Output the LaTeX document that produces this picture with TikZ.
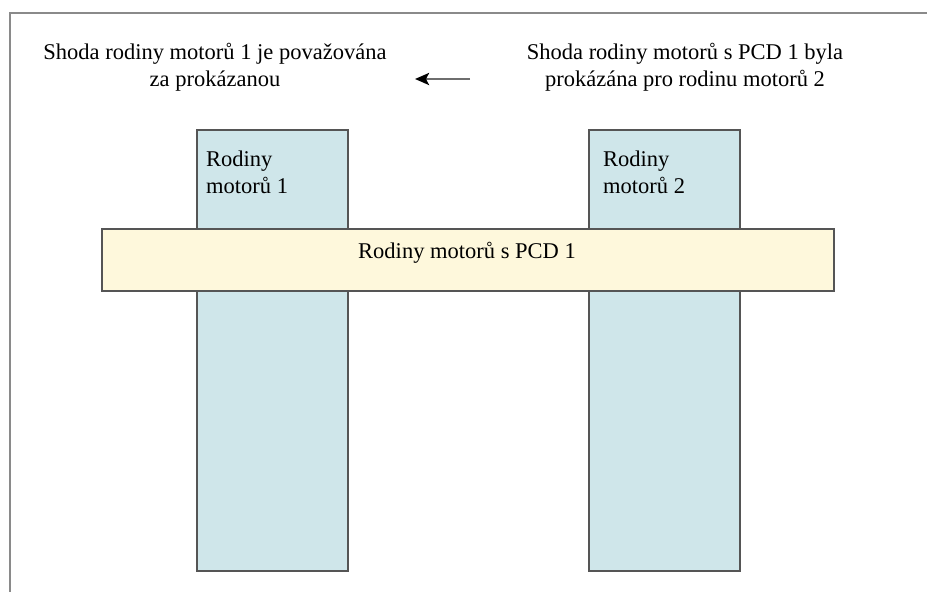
\documentclass[tikz,border=0pt]{standalone}
\usepackage{fontspec}
\setmainfont{Liberation Serif}
\usetikzlibrary{positioning,arrows.meta}
\definecolor{famblue}{HTML}{CFE6EA}
\definecolor{pcdyellow}{HTML}{FEF8DC}
\definecolor{edgegray}{HTML}{555555}
\definecolor{framegray}{HTML}{8A8A8A}
\definecolor{arrowgray}{HTML}{6E6E6E}
\tikzset{fam/.style={draw=edgegray,line width=1.6pt,fill=famblue,inner sep=0pt,
		minimum width=151pt,minimum height=441pt,anchor=north west},
	 pcd/.style={draw=edgegray,line width=1.6pt,fill=pcdyellow,inner sep=0pt,
		minimum width=732pt,minimum height=62pt,anchor=north west},
	 txt/.style={font=\fontsize{22.5}{27}\selectfont,inner sep=0pt,align=center},
	 frame/.style={draw=framegray,line width=1.8pt}
	 }

\begin{document}
\begin{tikzpicture}[x=1pt,y=-1pt] % engine families and PCD family
	\useasboundingbox (0,0) rectangle (927,592);
	\draw[frame] (10,592) -- (10,13) -- (927,13);
        \node[fam] (fam1) at (196,129) {};
        \node[fam] (fam2) at (588,129) {};
        \node[pcd] (pcd1) at (101,228) {};
        \node[txt] (pcdlabel) at (467,253) {Rodiny motorů s PCD 1};
        \node[txt,align=left,anchor=north west] (fam1label) at ([shift={(10,22)}]fam1.north west) {Rodiny\\motorů 1};
        \node[txt,align=left,anchor=north west] (fam2label) at ([shift={(15,22)}]fam2.north west) {Rodiny\\motorů 2};
        \node[txt] (note1) at (215,67) {Shoda rodiny motorů 1 je považována\\za prokázanou};
        \node[txt] (note2) at (685,67) {Shoda rodiny motorů s PCD 1 byla\\prokázána pro rodinu motorů 2};
	\coordinate (arrowtail) at (470,79);
	\coordinate (arrowhead) at (415,79);
	\draw[-{Stealth[length=14pt,width=12pt,inset=3pt,color=black]},line width=2.6pt,arrowgray] (arrowtail) -- (arrowhead);
\end{tikzpicture}
\end{document}
